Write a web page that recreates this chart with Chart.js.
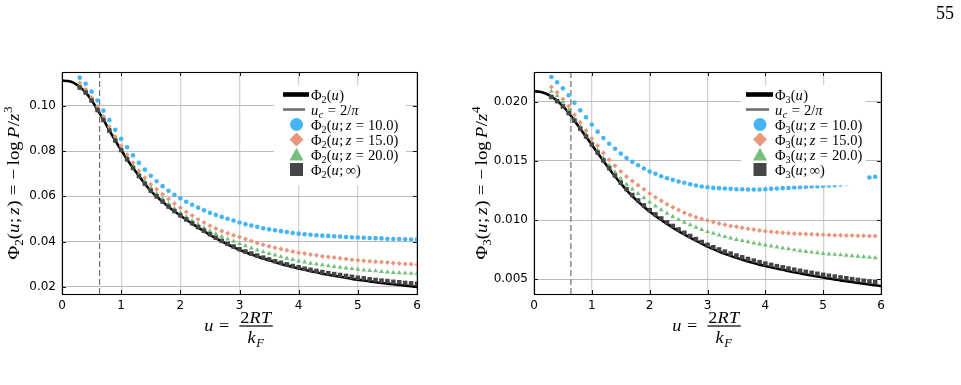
<!DOCTYPE html>
<html><head><meta charset="utf-8">
<script src="https://cdn.jsdelivr.net/npm/chart.js@4.4.1/dist/chart.umd.min.js"></script>
<style>
html,body{margin:0;padding:0;background:#fff;}
body{width:961px;height:385px;position:relative;overflow:hidden;}
#c1wrap{position:absolute;left:0;top:0;width:480px;height:385px;}
#c2wrap{position:absolute;left:470px;top:0;width:491px;height:385px;}
#page{position:absolute;right:7px;top:4px;font:18px "Liberation Serif",serif;line-height:18px;color:#000;z-index:5;}
</style></head><body>
<div id="c1wrap"><canvas id="c1" width="480" height="385"></canvas></div>
<div id="c2wrap"><canvas id="c2" width="491" height="385"></canvas></div>
<div id="page">55</div>
<script>
// ---------- data ----------
const xTicks = [0, 1, 2, 3, 4, 5, 6];
const yTicksPhi2 = [0.02, 0.04, 0.06, 0.08, 0.10];
const yTicksPhi3 = [0.005, 0.010, 0.015, 0.020];
const U_C = 0.6366;

const uLine = [0.0,0.1,0.2,0.3,0.4,0.5,0.6,0.7,0.8,0.9,1.0,1.1,1.2,1.3,1.4,1.5,1.6,1.7,1.8,1.9,
  2.0,2.1,2.2,2.3,2.4,2.5,2.6,2.7,2.8,2.9,3.0,3.1,3.2,3.3,3.4,3.5,3.6,3.7,3.8,3.9,
  4.0,4.1,4.2,4.3,4.4,4.5,4.6,4.7,4.8,4.9,5.0,5.1,5.2,5.3,5.4,5.5,5.6,5.7,5.8,5.9,6.0];
const uPhi2 = [0.3,0.4,0.5,0.6,0.7,0.8,0.9,1.0,1.1,1.2,1.3,1.4,1.5,1.6,1.7,1.8,1.9,
  2.0,2.1,2.2,2.3,2.4,2.5,2.6,2.7,2.8,2.9,3.0,3.1,3.2,3.3,3.4,3.5,3.6,3.7,3.8,3.9,
  4.0,4.1,4.2,4.3,4.4,4.5,4.6,4.7,4.8,4.9,5.0,5.1,5.2,5.3,5.4,5.5,5.6,5.7,5.8,5.9,6.0];
const uPhi3 = [0.3,0.4,0.5,0.6,0.7,0.8,0.9,1.0,1.1,1.2,1.3,1.4,1.5,1.6,1.7,1.8,1.9,
  2.0,2.1,2.2,2.3,2.4,2.5,2.6,2.7,2.8,2.9,3.0,3.1,3.2,3.3,3.4,3.5,3.6,3.7,3.8,3.9,
  4.0,4.1,4.2,4.3,4.4,4.5,4.6,4.7,4.8,4.9,5.0,5.1,5.2,5.3,5.4,5.5,5.6,5.7,5.8,5.9];

const phi2Line = [0.1112,0.1110,0.1102,0.1084,0.1060,0.1025,0.0983,0.0939,0.0892,0.0847,
  0.0805,0.0764,0.0726,0.0690,0.0656,0.0624,0.0599,0.0576,0.0554,0.0534,
  0.0515,0.0497,0.0479,0.0462,0.0446,0.0430,0.0415,0.0401,0.0387,0.0375,
  0.0363,0.0353,0.0343,0.0334,0.0325,0.0317,0.0309,0.0301,0.0294,0.0287,
  0.0281,0.0275,0.0269,0.0264,0.0258,0.0253,0.0249,0.0244,0.0240,0.0235,
  0.0231,0.0228,0.0224,0.0220,0.0217,0.0214,0.0211,0.0208,0.0205,0.0202,0.0199];
const phi2z10 = [0.1125,0.1098,0.1063,0.1024,0.0979,0.0937,0.0894,0.0854,0.0817,0.0781,
  0.0748,0.0718,0.0691,0.0667,0.0645,0.0625,0.0607,0.0591,0.0576,0.0563,
  0.0550,0.0538,0.0527,0.0518,0.0509,0.0501,0.0493,0.0484,0.0477,0.0471,
  0.0465,0.0459,0.0454,0.0450,0.0446,0.0442,0.0438,0.0435,0.0432,0.0430,
  0.0428,0.0426,0.0425,0.0423,0.0422,0.0420,0.0419,0.0418,0.0417,0.0416,
  0.0415,0.0414,0.0412,0.0411,0.0411,0.0410,0.0409,0.0409];
const phi2z15 = [0.1101,0.1074,0.1037,0.0997,0.0953,0.0908,0.0864,0.0823,0.0784,0.0749,
  0.0713,0.0682,0.0654,0.0631,0.0609,0.0588,0.0568,0.0549,0.0531,0.0515,
  0.0499,0.0484,0.0470,0.0458,0.0447,0.0437,0.0428,0.0420,0.0411,0.0402,
  0.0394,0.0386,0.0379,0.0373,0.0367,0.0361,0.0356,0.0351,0.0347,0.0343,
  0.0339,0.0335,0.0332,0.0329,0.0326,0.0323,0.0320,0.0317,0.0315,0.0313,
  0.0311,0.0309,0.0307,0.0305,0.0303,0.0301,0.0300,0.0299];
const phi2z20 = [0.1090,0.1065,0.1029,0.0988,0.0944,0.0898,0.0853,0.0811,0.0771,0.0734,
  0.0700,0.0667,0.0639,0.0613,0.0589,0.0567,0.0546,0.0527,0.0509,0.0492,
  0.0476,0.0461,0.0447,0.0434,0.0422,0.0411,0.0401,0.0391,0.0381,0.0371,
  0.0362,0.0354,0.0347,0.0340,0.0333,0.0326,0.0320,0.0314,0.0309,0.0304,
  0.0300,0.0296,0.0292,0.0289,0.0286,0.0283,0.0280,0.0277,0.0274,0.0272,
  0.0270,0.0267,0.0265,0.0263,0.0262,0.0260,0.0259,0.0258];
const phi2Inf = [0.1081,0.1059,0.1024,0.0982,0.0938,0.0891,0.0847,0.0805,0.0764,0.0726,
  0.0690,0.0656,0.0625,0.0600,0.0577,0.0555,0.0535,0.0516,0.0498,0.0481,
  0.0464,0.0448,0.0432,0.0417,0.0403,0.0390,0.0378,0.0366,0.0356,0.0347,
  0.0338,0.0329,0.0321,0.0313,0.0306,0.0299,0.0292,0.0286,0.0280,0.0275,
  0.0270,0.0265,0.0260,0.0256,0.0252,0.0248,0.0244,0.0240,0.0237,0.0233,
  0.0230,0.0227,0.0225,0.0222,0.0220,0.0217,0.0215,0.0213];

const phi3Line = [0.02088,0.02084,0.02070,0.02044,0.02008,0.01962,0.01905,0.01840,0.01772,0.01704,
  0.01636,0.01568,0.01500,0.01434,0.01370,0.01310,0.01254,0.01203,0.01156,0.01113,
  0.01073,0.01036,0.01001,0.00968,0.00937,0.00907,0.00879,0.00852,0.00826,0.00801,
  0.00776,0.00755,0.00735,0.00716,0.00698,0.00681,0.00666,0.00651,0.00637,0.00624,
  0.00613,0.00602,0.00591,0.00580,0.00570,0.00560,0.00551,0.00541,0.00532,0.00524,
  0.00515,0.00507,0.00499,0.00491,0.00484,0.00477,0.00470,0.00463,0.00456,0.00450,0.00443];
const phi3z10 = [0.02209,0.02164,0.02113,0.02054,0.01992,0.01927,0.01869,0.01808,0.01747,0.01694,
  0.01645,0.01603,0.01562,0.01524,0.01492,0.01464,0.01436,0.01411,0.01391,0.01371,
  0.01354,0.01340,0.01326,0.01315,0.01303,0.01292,0.01284,0.01278,0.01272,0.01270,
  0.01267,0.01264,0.01261,0.01261,0.01258,0.01258,0.01258,0.01261,0.01264,0.01267,
  0.01270,0.01272,0.01275,0.01278,0.01281,0.01284,0.01287,0.01289,0.01292,0.01295,
  0.01300,0.01308,0.01318,0.01330,0.01344,0.01360,0.01366];
const phi3z15 = [0.02124,0.02079,0.02023,0.01961,0.01890,0.01825,0.01757,0.01690,0.01628,0.01566,
  0.01509,0.01459,0.01411,0.01368,0.01330,0.01295,0.01260,0.01225,0.01193,0.01163,
  0.01135,0.01109,0.01085,0.01063,0.01043,0.01025,0.01010,0.00997,0.00984,0.00972,
  0.00961,0.00951,0.00943,0.00935,0.00927,0.00920,0.00913,0.00907,0.00902,0.00897,
  0.00893,0.00890,0.00887,0.00884,0.00882,0.00880,0.00878,0.00876,0.00875,0.00873,
  0.00872,0.00871,0.00870,0.00869,0.00867,0.00866,0.00865];
const phi3z20 = [0.02087,0.02051,0.01997,0.01932,0.01856,0.01790,0.01722,0.01655,0.01590,0.01525,
  0.01462,0.01405,0.01352,0.01303,0.01262,0.01224,0.01188,0.01152,0.01118,0.01087,
  0.01057,0.01030,0.01005,0.00982,0.00960,0.00939,0.00920,0.00902,0.00888,0.00874,
  0.00860,0.00848,0.00836,0.00826,0.00816,0.00806,0.00797,0.00789,0.00780,0.00772,
  0.00764,0.00757,0.00748,0.00741,0.00735,0.00729,0.00723,0.00718,0.00714,0.00710,
  0.00706,0.00702,0.00698,0.00694,0.00690,0.00685,0.00681];
const phi3Inf = [0.02040,0.02005,0.01960,0.01904,0.01840,0.01773,0.01706,0.01639,0.01571,0.01504,
  0.01439,0.01376,0.01317,0.01262,0.01212,0.01166,0.01124,0.01084,0.01048,0.01014,
  0.00982,0.00951,0.00921,0.00893,0.00866,0.00840,0.00815,0.00791,0.00771,0.00752,
  0.00734,0.00717,0.00701,0.00686,0.00672,0.00658,0.00645,0.00633,0.00622,0.00611,
  0.00601,0.00591,0.00581,0.00572,0.00563,0.00555,0.00547,0.00538,0.00530,0.00523,
  0.00516,0.00509,0.00502,0.00495,0.00488,0.00482,0.00476];

const labelsPhi2 = ['Φ_2(u)', 'u_c = 2/π', 'Φ_2(u; z = 10.0)', 'Φ_2(u; z = 15.0)', 'Φ_2(u; z = 20.0)', 'Φ_2(u; ∞)'];
const labelsPhi3 = ['Φ_3(u)', 'u_c = 2/π', 'Φ_3(u; z = 10.0)', 'Φ_3(u; z = 15.0)', 'Φ_3(u; z = 20.0)', 'Φ_3(u; ∞)'];
const yTitlePhi2 = 'Φ_2(u; z) = −log P/z^3';
const yTitlePhi3 = 'Φ_3(u; z) = −log P/z^4';
const xTitleLeft = 'u =', xTitleNum = '2RT', xTitleDen = 'k_F';

// ---------- styles ----------
const BLUE = '#47b4f8', ORANGE = '#e8977c', GREEN = '#78bf7e', DARK = '#454545';
const SERIF = '"Liberation Serif", "Times New Roman", serif';

// ---------- tiny math text renderer ----------
function parseMath(s) {
  const toks = []; let i = 0; const IT = /[A-Za-zπ]/;
  while (i < s.length) {
    const c = s[i];
    if (c === ' ') { i++; continue; }
    if (s.startsWith('log', i)) { toks.push({t: 'log', it: false}, {sp: 0.17}); i += 3; continue; }
    if (c === '_' || c === '^') { const n = s[i + 1]; toks.push({t: n, it: IT.test(n), pos: c === '_' ? 'sub' : 'sup'}); i += 2; continue; }
    if (c === '=') { toks.push({sp: 0.28}, {t: '=', it: false}, {sp: 0.28}); i++; continue; }
    if (c === '−') { toks.push({t: '−', it: false}, {sp: 0.2}); i++; continue; }
    if (c === ';') { toks.push({t: ';', it: false}, {sp: 0.17}); i++; continue; }
    toks.push({t: c, it: IT.test(c)}); i++;
  }
  return toks;
}
function mFont(t, size) { const sz = t.pos ? size * 0.7 : size; return (t.it ? 'italic ' : '') + sz.toFixed(2) + 'px ' + SERIF; }
function mAdv(ctx, t, size, kx) { ctx.font = mFont(t, size); return (ctx.measureText(t.t).width + (t.it ? size * 0.03 : 0)) * kx; }
function mWidth(ctx, toks, size, kx) { let w = 0; for (const t of toks) w += (t.sp !== undefined) ? t.sp * size * kx : mAdv(ctx, t, size, kx); return w; }
function mDraw(ctx, toks, x, y, size, kx) {
  ctx.textAlign = 'left'; ctx.textBaseline = 'alphabetic';
  for (const t of toks) {
    if (t.sp !== undefined) { x += t.sp * size * kx; continue; }
    const adv = mAdv(ctx, t, size, kx);
    const dy = t.pos === 'sub' ? size * 0.22 : t.pos === 'sup' ? -size * 0.4 : 0;
    ctx.save(); ctx.translate(x, y + dy); ctx.scale(kx, 1); ctx.font = mFont(t, size); ctx.fillText(t.t, 0, 0); ctx.restore();
    x += adv;
  }
  return x;
}

// ---------- plugins ----------
const legendPlugin = {
  id: 'mathLegend',
  afterDatasetsDraw(chart) {
    const o = chart.options.plugins.mathLegend; if (!o) return;
    const ctx = chart.ctx; ctx.save();
    ctx.fillStyle = '#fff';
    ctx.fillRect(o.box[0], o.box[1], o.box[2] - o.box[0], o.box[3] - o.box[1]);
    chart.data.datasets.forEach((ds, i) => {
      const y = o.rowY0 + i * o.rowH;
      ctx.setLineDash([]);
      if (ds.legendLine) {
        ctx.strokeStyle = ds.legendColor; ctx.lineWidth = ds.legendLine; ctx.lineCap = 'butt';
        ctx.beginPath(); ctx.moveTo(o.lineX[0], y); ctx.lineTo(ds.legendLine > 3 ? o.lineX[1] : o.lineX[1] - 4, y); ctx.stroke();
      } else {
        const x = o.markX; ctx.fillStyle = ds.backgroundColor; ctx.beginPath();
        if (ds.pointStyle === 'circle') ctx.arc(x, y, 6.5, 0, Math.PI * 2);
        else if (ds.pointStyle === 'rectRot') { ctx.moveTo(x, y - 7); ctx.lineTo(x + 7, y); ctx.lineTo(x, y + 7); ctx.lineTo(x - 7, y); ctx.closePath(); }
        else if (ds.pointStyle === 'triangle') { ctx.moveTo(x, y - 6.8); ctx.lineTo(x + 7, y + 6); ctx.lineTo(x - 7, y + 6); ctx.closePath(); }
        else ctx.rect(x - 6.5, y - 6.5, 13, 13);
        ctx.fill();
      }
      ctx.fillStyle = '#000';
      mDraw(ctx, parseMath(ds.label), o.textX, y + 5, 14.5, 1.0);
    });
    ctx.restore();
  }
};
const framePlugin = {
  id: 'frame',
  afterDraw(chart) {
    const o = chart.options.plugins.frame; const ctx = chart.ctx; const ca = chart.chartArea;
    const xs = chart.scales.x, ys = chart.scales.y;
    ctx.save(); ctx.setLineDash([]);
    ctx.strokeStyle = '#111'; ctx.lineWidth = 1; ctx.beginPath();
    xTicks.forEach(v => { const px = Math.round(xs.getPixelForValue(v)) + 0.5;
      ctx.moveTo(px, ca.bottom); ctx.lineTo(px, ca.bottom - 4); ctx.moveTo(px, ca.top); ctx.lineTo(px, ca.top + 4); });
    o.yTicks.forEach(v => { const py = Math.round(ys.getPixelForValue(v)) + 0.5;
      ctx.moveTo(ca.left, py); ctx.lineTo(ca.left + 4, py); ctx.moveTo(ca.right, py); ctx.lineTo(ca.right - 4, py); });
    ctx.stroke();
    ctx.strokeStyle = '#000'; ctx.lineWidth = 1.1;
    ctx.strokeRect(Math.round(ca.left) + 0.5, Math.round(ca.top) + 0.5, Math.round(ca.right - ca.left), Math.round(ca.bottom - ca.top));
    // x title with fraction
    ctx.fillStyle = '#000';
    const kx = 1.07, size = 17, barY = 326;
    const tl = parseMath(xTitleLeft), tn = parseMath(xTitleNum), td = parseMath(xTitleDen);
    const wl = mWidth(ctx, tl, size, kx) + 5, wn = mWidth(ctx, tn, size, kx), wd = mWidth(ctx, td, size, kx);
    const barW = Math.max(wn, wd) + 2;
    const cx = (ca.left + ca.right) / 2 - 1;
    const x0 = cx - (wl + barW) / 2;
    mDraw(ctx, tl, x0, barY + 5, size, kx);
    ctx.fillRect(x0 + wl, barY - 0.6, barW, 1.2);
    mDraw(ctx, tn, x0 + wl + (barW - wn) / 2, barY - 3.5, size, kx);
    mDraw(ctx, td, x0 + wl + (barW - wd) / 2, barY + 17, size, kx);
    // y title rotated
    const ty = parseMath(o.yTitle); const wy = mWidth(ctx, ty, 17.5, kx);
    ctx.save(); ctx.translate(o.yTitleX, (ca.top + ca.bottom) / 2); ctx.rotate(-Math.PI / 2);
    mDraw(ctx, ty, -wy / 2, 5, 17.5, kx); ctx.restore();
    ctx.restore();
  }
};

// ---------- chart builder ----------
function pts(xs, ys) { return xs.map((x, i) => ({x: x, y: ys[i]})); }
function makeChart(id, c) {
  return new Chart(document.getElementById(id), {
    type: 'scatter',
    data: {datasets: [
      {label: c.labels[0], data: pts(uLine, c.line), showLine: true, borderColor: '#000', borderWidth: 2.6, pointRadius: 0,
       cubicInterpolationMode: 'monotone', order: 6, legendLine: 4.6, legendColor: '#000'},
      {label: c.labels[1], data: [{x: U_C, y: c.yMin}, {x: U_C, y: c.yMax}], showLine: true, borderColor: c.dashColor,
       borderWidth: c.dashWidth, borderDash: c.dash, pointRadius: 0, order: 5, legendLine: 2.6, legendColor: '#6e6e6e'},
      {label: c.labels[2], data: pts(c.u, c.z10), pointStyle: 'circle', pointRadius: 2.3, backgroundColor: BLUE, borderWidth: 0, order: 4},
      {label: c.labels[3], data: pts(c.u, c.z15), pointStyle: 'rectRot', pointRadius: 2.5, backgroundColor: ORANGE, borderWidth: 0, order: 3},
      {label: c.labels[4], data: pts(c.u, c.z20), pointStyle: 'triangle', pointRadius: 2.8, backgroundColor: GREEN, borderWidth: 0, order: 2},
      {label: c.labels[5], data: pts(c.u, c.inf), pointStyle: 'rect', pointRadius: 3.2, backgroundColor: DARK, borderWidth: 0, order: 1}
    ]},
    options: {
      responsive: false, animation: false, devicePixelRatio: 1,
      layout: {padding: {left: 0, right: c.padR, top: 72, bottom: 0}},
      plugins: {
        legend: {display: false}, tooltip: {enabled: false},
        mathLegend: c.legend,
        frame: {yTicks: c.yTicks, yTitle: c.yTitle, yTitleX: c.yTitleX}
      },
      scales: {
        x: {type: 'linear', min: 0, max: 6,
            afterBuildTicks: s => { s.ticks = xTicks.map(v => ({value: v})); },
            afterFit: s => { s.height = 91; },
            grid: {color: '#d2d2d2', lineWidth: 1.3, drawTicks: false}, border: {display: false},
            ticks: {padding: 5, color: '#000', font: {family: 'DejaVu Sans', size: 12}, callback: v => String(v), maxRotation: 0, autoSkip: false}},
        y: {type: 'linear', min: c.yMin, max: c.yMax,
            afterBuildTicks: s => { s.ticks = c.yTicks.map(v => ({value: v})); },
            afterFit: s => { s.width = c.yW; },
            grid: {color: '#bcbcbc', lineWidth: 1, drawTicks: false}, border: {display: false},
            ticks: {padding: 6, color: '#000', font: {family: 'DejaVu Sans', size: 12}, callback: v => v.toFixed(c.dec), autoSkip: false}}
      }
    },
    plugins: [legendPlugin, framePlugin]
  });
}

makeChart('c1', {
  labels: labelsPhi2, line: phi2Line, u: uPhi2, z10: phi2z10, z15: phi2z15, z20: phi2z20, inf: phi2Inf,
  yMin: 0.0168, yMax: 0.1150, yTicks: yTicksPhi2, dec: 2, yW: 62, padR: 63,
  dashColor: '#555', dashWidth: 1, dash: [6, 3],
  yTitle: yTitlePhi2, yTitleX: 14,
  legend: {box: [274, 85, 406, 185.5], rowY0: 94.5, rowH: 15, lineX: [283, 309], markX: 296.5, textX: 311}
});
makeChart('c2', {
  labels: labelsPhi3, line: phi3Line, u: uPhi3, z10: phi3z10, z15: phi3z15, z20: phi3z20, inf: phi3Inf,
  yMin: 0.00376, yMax: 0.02251, yTicks: yTicksPhi3, dec: 3, yW: 64, padR: 80,
  dashColor: '#9a9a9a', dashWidth: 1.8, dash: [6, 3],
  yTitle: yTitlePhi3, yTitleX: 12,
  legend: {box: [271, 85, 396, 185.5], rowY0: 94.5, rowH: 15, lineX: [276, 303], markX: 290, textX: 305}
});
</script></body></html>
